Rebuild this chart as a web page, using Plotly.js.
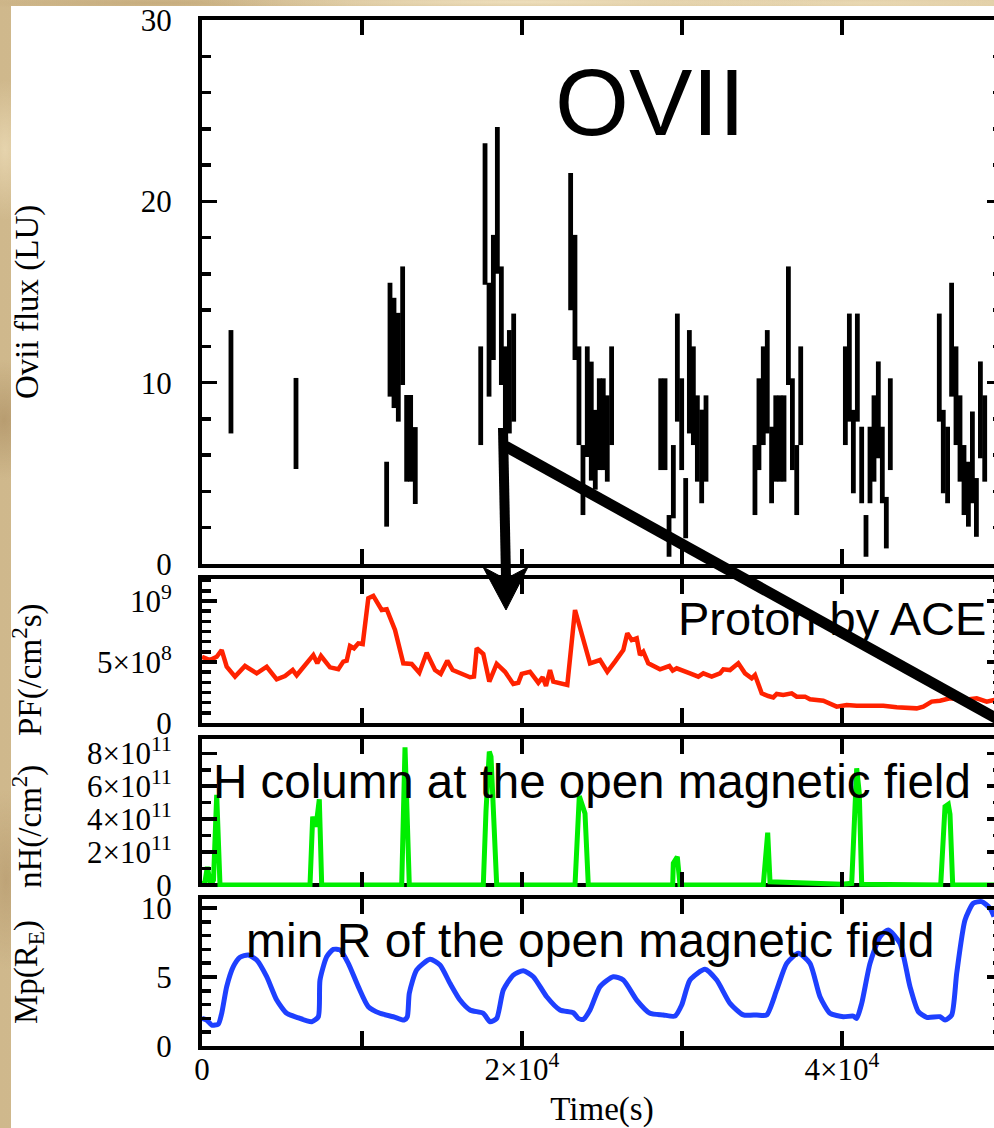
<!DOCTYPE html>
<html>
<head>
<meta charset="utf-8">
<script src="https://cdn.plot.ly/plotly-3.0.1.min.js"></script>
<style>
html,body{margin:0;padding:0;width:994px;height:1128px;overflow:hidden;}
body{
  background-color:#d8c297;
  background-image:
    radial-gradient(ellipse 40px 60px at 4px 420px, rgba(140,105,60,.35), transparent),
    radial-gradient(ellipse 30px 90px at 6px 880px, rgba(150,115,70,.30), transparent),
    radial-gradient(ellipse 30px 70px at 5px 150px, rgba(245,230,195,.6), transparent),
    radial-gradient(ellipse 320px 8px at 520px 2px, rgba(245,232,200,.75), transparent),
    radial-gradient(ellipse 200px 7px at 160px 3px, rgba(185,155,105,.45), transparent),
    radial-gradient(ellipse 200px 7px at 860px 3px, rgba(240,225,190,.6), transparent),
    linear-gradient(90deg,#cfb88c,#e0cda5);
}
#paper{position:absolute;left:11px;top:6px;right:0;bottom:0;background:#ffffff;}
#chart{position:absolute;left:0;top:0;width:1010px;height:1128px;}
</style>
</head>
<body>
<div id="paper"></div>
<div id="chart"></div>
<script>
// ---------------- data ----------------
const xTickVals = [0, 20000, 40000];
const xTickText = ['0', '2×10<sup>4</sup>', '4×10<sup>4</sup>'];

// OVII flux (LU): time bins with error half-widths
const oviiTime = [1810,5875,11540,11750,12000,12270,12540,12790,13040,13330,
  17420,17690,17940,18210,18460,18710,18960,19210,19480,
  23040,23310,23560,23810,24080,24330,24580,24830,25080,25330,25600,
  28670,28940,29190,29460,29710,29980,30230,30460,30710,30960,31230,31500,
  34560,34810,35080,35330,35600,35860,36125,36375,36650,36900,37170,37420,
  40210,40460,40710,40960,41230,41500,41750,42000,42270,42520,42770,43020,
  46080,46330,46600,46850,47125,47375,47625,47900,48150,48400,48650,48920];
const oviiFlux = [10.05,7.75,3.85,12.37,11.64,10.85,13.14,6.93,6.93,5.43,
  9.28,19.3,12.37,14.7,20.05,13.14,9.6,10.05,10.83,
  17.78,14.7,9.28,4.63,8.95,7.88,6.3,7.71,7.71,6.92,9.28,
  7.71,7.71,1.55,4.54,10.83,7.71,3.08,10.05,9.28,6.92,5.93,6.92,
  4.63,7.71,9.28,10.05,5.46,6.92,6.92,6.92,13.14,7.71,4.63,9.28,
  9.28,10.83,6.2,10.83,5.46,1.55,5.46,6.92,8.5,5.46,2.28,7.71,
  10.83,6.2,5.46,12.37,9.28,6.92,4.63,3.85,5.88,3.12,8.5,6.92];
const oviiErr = [2.85,2.51,1.79,3.14,3.04,3.0,3.27,2.39,2.39,2.12,
  2.72,3.9,3.14,3.45,4.05,3.27,2.4,2.85,2.98,
  3.78,3.45,2.72,1.93,3.05,3.28,2.2,2.53,2.53,2.38,2.72,
  2.53,2.53,1.15,2.02,2.98,2.53,1.66,2.85,2.72,2.38,2.58,2.38,
  1.93,2.53,2.72,2.85,2.11,2.38,2.38,2.38,3.27,2.53,1.93,2.72,
  2.72,2.98,2.3,2.98,2.11,1.15,2.11,2.38,2.67,2.11,1.42,2.53,
  2.98,2.3,2.11,3.14,2.72,2.38,1.93,1.79,2.53,1.62,2.67,2.38];

// Proton flux by ACE (/cm^2 s)
const pfTime = [0,500,919,1231,1544,2063,2688,3419,4044,4669,
  5188,5669,5919,6956,7206,7438,8000,8519,8831,9044,
  9250,9500,9769,10044,10394,10706,11231,11544,12063,12581,
  13106,13581,14044,14563,14919,15331,15669,16231,16750,17000,
  17169,17581,17956,18419,18938,19456,19769,19981,20500,21019,
  21294,21500,21750,21956,22831,23313,24250,24875,25331,25813,
  26331,26581,26856,27169,27375,27581,27894,28625,29206,29419,
  29669,30500,31019,31331,31856,32375,32581,33000,33519,33938,
  34356,34563,34981,35394,35706,35919,36331,36856,37169,37688,
  38000,38831,39669,40294,40919,42581,43419,44669,45081,45606,
  46125,46750,47581,48419,49044,49500,50000];
const pfFlux = [5.43e8,5.16e8,5.43e8,5.98e8,4.61e8,3.8e8,4.67e8,4.07e8,4.61e8,3.58e8,
  3.85e8,4.34e8,3.91e8,5.57e8,4.89e8,5.49e8,4.56e8,4.4e8,5.03e8,5.11e8,
  6.31e8,6.12e8,6.53e8,6.47e8,10.22e8,10.41e8,9.26e8,9.32e8,7.62e8,4.89e8,
  4.84e8,4.12e8,5.76e8,4.34e8,4.02e8,5.11e8,4.34e8,4.07e8,3.75e8,3.8e8,
  6.12e8,5.66e8,3.39e8,4.84e8,4.2e8,3.2e8,3.3e8,4.02e8,4.2e8,3.3e8,
  3.75e8,3.03e8,4.34e8,3.39e8,3.11e8,9.26e8,4.89e8,5.16e8,4.2e8,5.03e8,
  5.98e8,7.35e8,6.8e8,6.94e8,5.57e8,5.84e8,4.89e8,4.4e8,4.67e8,4.29e8,
  4.48e8,4.07e8,3.8e8,4.07e8,3.8e8,4.07e8,4.4e8,4.34e8,4.89e8,4.07e8,
  3.66e8,3.93e8,2.43e8,2.21e8,2.1e8,2.38e8,2.3e8,2.43e8,2.16e8,2.16e8,
  1.94e8,1.83e8,1.34e8,1.48e8,1.42e8,1.42e8,1.29e8,1.2e8,1.34e8,1.75e8,
  1.83e8,2.02e8,1.89e8,2.02e8,1.75e8,1.89e8,1.9e8];

// H column at the open magnetic field (/cm^2)
const nhTime = [0,188,331,544,719,919,1125,
  6750,6919,7125,7331,7481,
  12481,12688,12956,
  17581,17750,17956,18063,18419,
  23313,23581,23938,24144,
  29419,29456,29706,29875,
  35081,35188,35356,35500,
  36500,38000,40000,40606,40706,40919,41081,41231,
  46169,46438,46644,46750,46919,
  50000];
const nhCol = [0,0.2e11,1.1e11,0,0.3e11,5.47e11,0,
  0,4.15e11,3.54e11,5.2e11,0,
  0,8.37e11,0,
  0,4.5e11,8.1e11,7.8e11,0,
  0,5.4e11,4.35e11,0,
  0,1.32e11,1.72e11,0,
  0,1.11e11,3.18e11,0.2e11,
  0.15e11,0.08e11,0.05e11,0.1e11,2.53e11,7.09e11,5.57e11,0.05e11,
  0,4.76e11,4.9e11,4.3e11,0,
  0];

// min R of the open magnetic field (R_E)
const mpTime = [0,294,606,1019,1231,1544,1956,2375,2894,3419,
  4044,4669,5294,5919,6856,7269,7375,7794,8206,8625,
  9144,9769,10394,11125,11956,12625,12831,12956,13419,14250,
  14875,15500,16125,16750,17581,18000,18419,18831,19456,20081,
  20706,21544,22375,23206,23519,23831,24250,24875,25706,26331,
  27169,28000,28831,29563,29981,30500,31438,32169,33000,33831,
  34669,35294,35919,36544,37269,38000,38625,39250,40081,40706,
  40919,41231,41750,42375,42894,43625,44250,44769,45294,46125,
  46438,46856,47169,47688,48206,48731,49250,49500];
const mpR = [2.0,1.88,1.52,1.59,2.37,4.3,5.75,6.43,6.59,6.23,
  5.02,3.33,2.37,2.08,1.76,2.12,4.78,6.47,7.0,6.96,
  5.99,4.3,2.85,2.37,2.12,1.88,2.12,3.82,5.51,6.28,
  5.87,4.54,3.33,2.61,2.37,1.76,2.0,4.06,5.14,5.46,
  5.02,3.57,2.61,2.41,2.0,1.93,2.61,4.3,5.02,4.78,
  3.33,2.37,2.25,2.17,2.97,4.78,5.56,4.78,3.09,2.25,
  2.25,2.25,4.06,5.99,6.72,5.99,3.57,2.37,2.12,2.17,
  2.0,3.09,5.99,7.92,8.41,7.44,4.3,2.49,2.08,2.12,
  1.88,2.25,5.27,9.13,10.34,10.46,9.98,9.37];

const y1Ticks = [0, 10, 20, 30];
const y1Text = ['0', '10', '20', '30'];
const y2Ticks = [0, 5e8, 1e9];
const y2Text = ['0', '5×10<sup>8</sup>', '10<sup>9</sup>'];
const y3Ticks = [0, 2e11, 4e11, 6e11, 8e11];
const y3Text = ['0', '2×10<sup>11</sup>', '4×10<sup>11</sup>', '6×10<sup>11</sup>', '8×10<sup>11</sup>'];
const y4Ticks = [0, 5, 10];
const y4Text = ['0', '5', '10'];

// ---------------- geometry helpers ----------------
const W = 1010, H = 1128, ML = 202, MR = 8, MT = 20, MB = 82;
const PW = W - ML - MR, PH = H - MT - MB;
const px = v => (v - ML) / PW;
const py = v => (H - MB - v) / PH;

const SERIF = 'Liberation Serif, Times New Roman, serif';
const SANS = 'Liberation Sans, Arial, Helvetica, sans-serif';

const tickFont = {family: SERIF, size: 31, color: 'black'};
function xAx(anchor, extra) {
  return Object.assign({
    anchor: anchor, domain: [0, 1], range: [0, 50000],
    showline: true, linecolor: 'black', linewidth: 4, mirror: 'ticks',
    ticks: 'inside', ticklen: 15, tickwidth: 3.5, tickcolor: 'black',
    tickmode: 'array', tickvals: xTickVals, ticktext: xTickText,
    minor: {dtick: 10000, tick0: 0, ticks: 'inside', ticklen: 15, tickwidth: 3.5, tickcolor: 'black', showgrid: false},
    showticklabels: false, showgrid: false, zeroline: false, fixedrange: true,
    tickfont: tickFont
  }, extra || {});
}
function yAx(anchor, dom, range, tv, tt, minorD, extra) {
  return Object.assign({
    anchor: anchor, domain: dom, range: range,
    showline: true, linecolor: 'black', linewidth: 4, mirror: 'ticks',
    ticks: 'inside', ticklen: 15, tickwidth: 3.5, tickcolor: 'black',
    tickmode: 'array', tickvals: tv, ticktext: tt,
    minor: {dtick: minorD, tick0: 0, ticks: 'inside', ticklen: 9, tickwidth: 3.5, tickcolor: 'black', showgrid: false},
    showgrid: false, zeroline: false, fixedrange: true,
    tickfont: tickFont, ticklabelstandoff: 20
  }, extra || {});
}

const traces = [
  {x: oviiTime, y: oviiFlux, type: 'scatter', mode: 'markers', xaxis: 'x', yaxis: 'y',
   marker: {size: 1, color: 'rgba(0,0,0,0)'},
   error_y: {type: 'data', array: oviiErr, visible: true, thickness: 4.8, width: 0, color: 'black'},
   hoverinfo: 'skip', showlegend: false},
  {x: pfTime, y: pfFlux, type: 'scatter', mode: 'lines', xaxis: 'x2', yaxis: 'y2',
   line: {color: '#ff2200', width: 4.5}, showlegend: false},
  {x: nhTime, y: nhCol, type: 'scatter', mode: 'lines', xaxis: 'x3', yaxis: 'y3',
   line: {color: '#00ee00', width: 5}, showlegend: false},
  {x: mpTime, y: mpR, type: 'scatter', mode: 'lines', xaxis: 'x4', yaxis: 'y4',
   line: {color: '#1e40ff', width: 5, shape: 'spline', smoothing: 0.6}, showlegend: false}
];

const layout = {
  width: W, height: H,
  margin: {l: ML, r: MR, t: MT, b: MB, pad: 0},
  paper_bgcolor: 'rgba(0,0,0,0)', plot_bgcolor: 'rgba(0,0,0,0)',
  showlegend: false,
  font: {family: SERIF, color: 'black'},
  xaxis: xAx('y'),
  xaxis2: xAx('y2'),
  xaxis3: xAx('y3', {showline: false}),
  xaxis4: xAx('y4', {showticklabels: true, ticklabelstandoff: -7,
    title: {text: 'Time(s)', font: {family: SERIF, size: 33, color: 'black'}, standoff: 20}}),
  yaxis: yAx('x', [py(564), py(20)], [0, 30], y1Ticks, y1Text, 2),
  yaxis2: yAx('x2', [py(723), py(579)], [0, 1.18e9], y2Ticks, y2Text, 5e8 / 6),
  yaxis3: yAx('x3', [py(887), py(739)], [-0.1215e11, 8.87e11], y3Ticks, y3Text, 1e11),
  yaxis4: yAx('x4', [py(1046), py(899)], [0, 10.65], y4Ticks, y4Text, 1),
  annotations: [
    {text: 'Ovii flux (LU)', x: px(27), y: py(302)},
    {text: 'PF(/cm<sup>2</sup>s)', x: px(27), y: py(670)},
    {text: 'nH(/cm<sup>2</sup>)', x: px(27), y: py(827)},
    {text: 'Mp(R<sub>E</sub>)', x: px(28), y: py(972)}
  ].map(a => Object.assign(a, {xref: 'paper', yref: 'paper', showarrow: false, textangle: -90,
      xanchor: 'center', yanchor: 'middle', font: {family: SERIF, size: 33, color: 'black'}}))
  .concat([
    {text: 'OVII', x: px(650), y: py(102), size: 95},
    {text: 'Proton by ACE', x: px(832), y: py(618.5), size: 47},
    {text: 'H column at the open magnetic field', x: px(592), y: py(781), size: 47.5},
    {text: 'min R of the open magnetic field', x: px(590), y: py(940), size: 48}
  ].map(a => ({text: a.text, x: a.x, y: a.y, xref: 'paper', yref: 'paper', showarrow: false,
      xanchor: 'center', yanchor: 'middle', font: {family: SANS, size: a.size, color: 'black'}}))),
  shapes: [
    // panel 3 frame: top line and bottom line (bottom one under the green trace)
    {type: 'line', xref: 'paper', yref: 'paper', x0: px(198), x1: px(1006), y0: py(737), y1: py(737),
     line: {color: 'black', width: 4}},
    {type: 'line', xref: 'paper', yref: 'y3', x0: px(198), x1: px(1006), y0: 0, y1: 0, layer: 'below',
     line: {color: 'black', width: 4}},
    // downward arrow
    {type: 'line', xref: 'paper', yref: 'paper', x0: px(503), y0: py(428), x1: px(506), y1: py(578),
     line: {color: 'black', width: 10}},
    {type: 'path', xref: 'paper', yref: 'paper', fillcolor: 'black', line: {color: 'black', width: 1},
     path: 'M' + px(483) + ',' + py(567) + ' L' + px(506) + ',' + py(610) + ' L' + px(528) + ',' + py(567) +
           ' L' + px(505.5) + ',' + py(579) + ' Z'},
    // diagonal arrow (runs off the right edge)
    {type: 'line', xref: 'paper', yref: 'paper', x0: px(505), y0: py(446), x1: px(1010), y1: py(726),
     line: {color: 'black', width: 11}}
  ]
};

Plotly.newPlot('chart', traces, layout, {staticPlot: true, displayModeBar: false, responsive: false});
</script>
</body>
</html>
